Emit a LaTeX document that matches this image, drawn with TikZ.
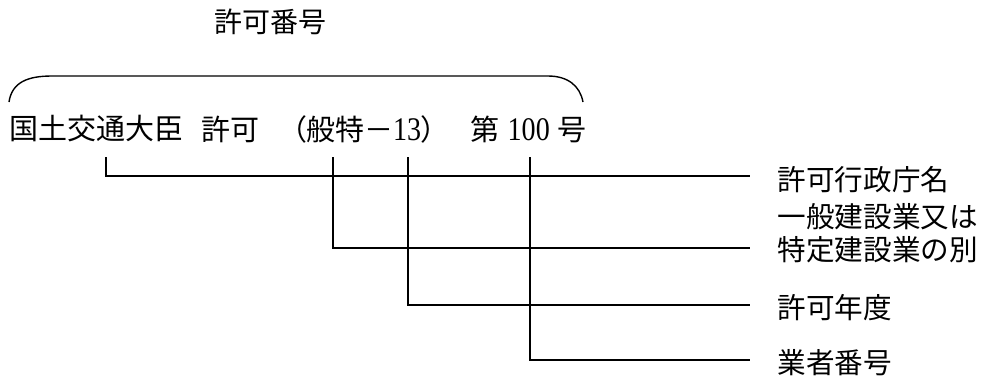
\documentclass[tikz,border=0pt]{standalone}
\usepackage{fontspec}
\setmainfont{Liberation Serif}
\newfontfamily\jp{Noto Sans CJK JP}
\newfontfamily\jpp[RawFeature=+palt]{Noto Sans CJK JP}
\newfontfamily\numfont[FakeStretch=0.85]{Liberation Serif}
\newcommand{\num}[1]{{\numfont\fontsize{16.5}{17}\selectfont #1}}
\usetikzlibrary{positioning}

\begin{document}
\begin{tikzpicture}[x=0.5pt, y=-0.5pt, line width=0.7pt,
  mtext/.style={anchor=west, inner sep=0pt, font=\fontsize{14.5}{17}\selectfont},
  lbl/.style={anchor=west, inner sep=0pt, align=left, font=\jp\fontsize{14.3}{16.5}\selectfont}]

\useasboundingbox (0,0) rectangle (982,376);

\node[font=\jp\fontsize{14}{16}\selectfont] (bango) at (270,22) {許可番号};

\node[mtext] (gov) at (9,129) {\jp 国土交通大臣};
\node[mtext] (kyoka) at (201,129) {\jp 許可};
\node[mtext] (kubun) at (291,129) {{\jpp （}{\jp 般特－}\num{13}{\jpp ）}};
\node[mtext] (dai) at (470,129) {{\jp 第}\hspace{4pt}\num{100}\hspace{4pt}{\jp 号}};

% brace over the number
\draw (9,102) .. controls (12,82) and (28,76) .. (52,76) -- (548,76) .. controls (568,76) and (580,86) .. (583,102);

\coordinate (s1) at (106,157);
\coordinate (s2) at (333,157);
\coordinate (s3) at (408,157);
\coordinate (s4) at (530,157);

\coordinate (e1) at (750,176);
\coordinate (e2) at (750,248);
\coordinate (e3) at (750,305);
\coordinate (e4) at (750,360);

\node[lbl, right=13.5pt of e1, yshift=-2pt] (gyosei) {許可行政庁名};
\node[lbl, right=13.5pt of e2, yshift=7.25pt] (betsu) {一般建設業又は\\特定建設業の別};
\node[lbl, right=13.5pt of e3, yshift=-1.5pt] (nendo) {許可年度};
\node[lbl, right=13.5pt of e4, yshift=-1.5pt] (gyosha) {業者番号};

\draw (s1) |- (e1);
\draw (s2) |- (e2);
\draw (s3) |- (e3);
\draw (s4) |- (e4);

\end{tikzpicture}
\end{document}
